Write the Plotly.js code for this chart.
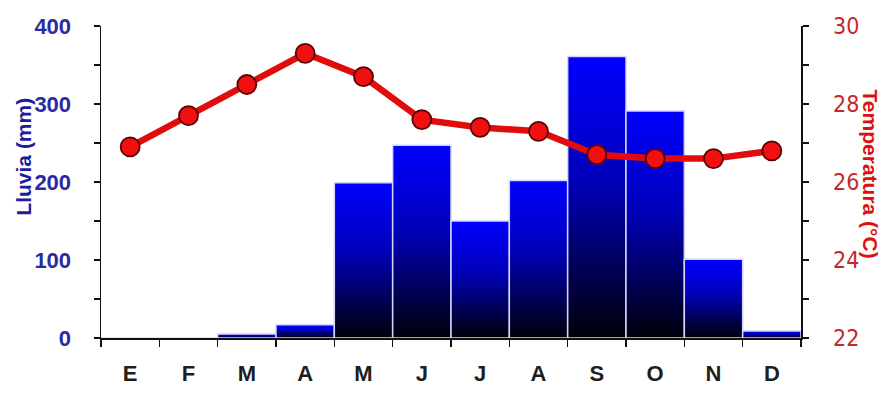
<!DOCTYPE html>
<html>
<head>
<meta charset="utf-8">
<script src="https://cdn.plot.ly/plotly-3.0.1.min.js"></script>
<style>
html,body{margin:0;padding:0;background:#fff;}
#chart{width:884px;height:393px;}
</style>
</head>
<body>
<div id="chart"></div>
<script>
const months = ["E","F","M","A","M ","J","J ","A ","S","O","N","D"];
const monthLabels = ["E","F","M","A","M","J","J","A","S","O","N","D"];
const rainfall = [0, 0, 5, 17, 199, 247, 150, 202, 361, 291, 101, 9];
const temperature = [26.9, 27.7, 28.5, 29.3, 28.7, 27.6, 27.4, 27.3, 26.7, 26.6, 26.6, 26.8];
const rainTicks = [0, 100, 200, 300, 400];
const tempTicks = [22, 24, 26, 28, 30];

const barTrace = {
  type: "bar",
  x: months,
  y: rainfall,
  yaxis: "y",
  marker: {color: "#0000ff", line: {color: "#d4d4ff", width: 1.5}},
  hoverinfo: "skip"
};
const lineTrace = {
  type: "scatter",
  mode: "lines+markers",
  x: months,
  y: temperature,
  yaxis: "y2",
  line: {color: "#e00c0c", width: 6.5},
  marker: {size: 19, color: "#f01010", line: {color: "#5a0000", width: 1.8}},
  hoverinfo: "skip"
};

const layout = {
  width: 884, height: 393,
  margin: {l: 101, r: 83, t: 26, b: 55},
  paper_bgcolor: "#ffffff",
  plot_bgcolor: "#ffffff",
  showlegend: false,
  bargap: 0,
  font: {family: "Liberation Sans, Arial, sans-serif"},
  xaxis: {
    type: "category",
    tickmode: "array",
    tickvals: months,
    ticktext: monthLabels,
    tickson: "boundaries",
    ticks: "outside", ticklen: 7, tickwidth: 1.5, tickcolor: "#111",
    showline: true, linecolor: "#111", linewidth: 1.5,
    showgrid: false, zeroline: false,
    tickfont: {size: 22, color: "#1e1e1e", family: "Liberation Sans, Arial, sans-serif", weight: "bold"},
    ticklabelstandoff: 15,
    range: [-0.5, 11.5]
  },
  yaxis: {
    range: [0, 400],
    tickmode: "array", tickvals: rainTicks,
    ticks: "outside", ticklen: 6, tickwidth: 1.5, tickcolor: "#111",
    minor: {dtick: 50, ticks: "outside", ticklen: 6, tickwidth: 1.5, tickcolor: "#111", showgrid: false},
    showline: true, linecolor: "#111", linewidth: 1.5,
    showgrid: false, zeroline: false,
    tickfont: {size: 22, color: "#2a2aa6", family: "Liberation Sans, Arial, sans-serif", weight: "bold"},
    ticklabelstandoff: 18
  },
  yaxis2: {
    overlaying: "y", side: "right",
    range: [22, 30],
    tickmode: "array", tickvals: tempTicks,
    ticks: "outside", ticklen: 6, tickwidth: 1.5, tickcolor: "#111",
    minor: {dtick: 1, ticks: "outside", ticklen: 6, tickwidth: 1.5, tickcolor: "#111", showgrid: false},
    showline: true, linecolor: "#111", linewidth: 1.5,
    showgrid: false, zeroline: false,
    tickfont: {size: 23, color: "#c42a2a", family: "Liberation Sans Narrow, Arial Narrow, DejaVu Sans Condensed, sans-serif"},
    ticklabelstandoff: 20
  },
  annotations: [
    {text: "<b>Lluvia (mm)</b>", xref: "paper", yref: "paper", x: -0.112, y: 0.58,
     xanchor: "center", yanchor: "middle", textangle: -90, showarrow: false,
     font: {size: 21, color: "#1c1ca0", family: "Liberation Sans, Arial, sans-serif"}},
    {text: "<b>Temperatura (°C)</b>", xref: "paper", yref: "paper", x: 1.099, y: 0.526,
     xanchor: "center", yanchor: "middle", textangle: 90, showarrow: false,
     font: {size: 21, color: "#dd1111", family: "Liberation Sans, Arial, sans-serif"}}
  ]
};

Plotly.newPlot("chart", [barTrace, lineTrace], layout, {staticPlot: true, displayModeBar: false}).then(function (gd) {
  const svgNS = "http://www.w3.org/2000/svg";
  const svg = gd.querySelector(".main-svg");
  let defs = svg.querySelector("defs");
  if (!defs) { defs = document.createElementNS(svgNS, "defs"); svg.insertBefore(defs, svg.firstChild); }
  const grad = document.createElementNS(svgNS, "linearGradient");
  grad.setAttribute("id", "barGrad");
  grad.setAttribute("x1", "0"); grad.setAttribute("y1", "0");
  grad.setAttribute("x2", "0"); grad.setAttribute("y2", "1");
  [["0", "#0000ff"], ["0.45", "#0000b8"], ["1", "#000008"]].forEach(function (s) {
    const st = document.createElementNS(svgNS, "stop");
    st.setAttribute("offset", s[0]);
    st.setAttribute("stop-color", s[1]);
    grad.appendChild(st);
  });
  defs.appendChild(grad);
  gd.querySelectorAll(".barlayer .point path").forEach(function (p) {
    p.style.fill = "url(#barGrad)";
  });
});
</script>
</body>
</html>
